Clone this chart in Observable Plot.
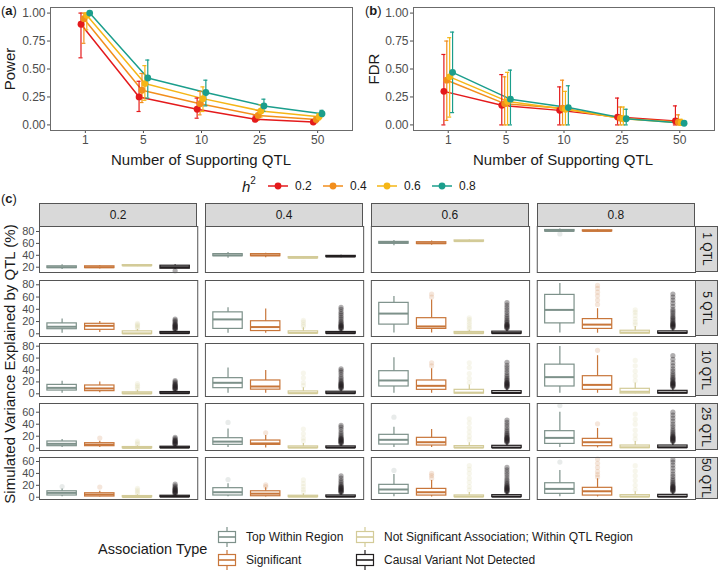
<!DOCTYPE html>
<html><head><meta charset="utf-8">
<script src="https://cdn.jsdelivr.net/npm/d3@7"></script>
<script src="https://cdn.jsdelivr.net/npm/@observablehq/plot@0.6"></script>
<style>
body{margin:0;background:#fff;}
#fig{position:relative;width:718px;height:570px;overflow:hidden;font-family:"Liberation Sans",Arial,Helvetica,sans-serif;color:#1a1a1a;}
.t{position:absolute;white-space:nowrap;line-height:1;}
.strip{position:absolute;background:#d9d9d9;border:1px solid #555;box-sizing:border-box;display:flex;align-items:center;justify-content:center;font-size:12px;color:#1a1a1a;}
</style></head><body><div id="fig"></div>
<script>
// ---------------- data ----------------
const qtlLabels = ["1", "5", "10", "25", "50"];
const h2Levels = [0.2, 0.4, 0.6, 0.8];
const h2Colors = ["#E41A1C", "#F28E1C", "#F5B616", "#1B9E8C"];

// Panel (a): power, one row per h2 level, one value per QTL count
const powerVal = [[0.90, 0.25, 0.14, 0.05, 0.025], [0.95, 0.31, 0.19, 0.085, 0.048], [0.98, 0.37, 0.235, 0.125, 0.073], [1.00, 0.42, 0.29, 0.17, 0.10]];
const powerLo  = [[0.60, 0.12, 0.06, 0.03, 0.01], [0.73, 0.20, 0.09, 0.04, 0.02], [0.85, 0.22, 0.12, 0.07, 0.045], [0.99, 0.24, 0.17, 0.12, 0.075]];
const powerHi  = [[1.00, 0.39, 0.24, 0.08, 0.04], [1.00, 0.46, 0.30, 0.13, 0.07], [1.00, 0.53, 0.34, 0.18, 0.10], [1.00, 0.58, 0.40, 0.23, 0.13]];

// Panel (b): FDR
const fdrVal = [[0.30, 0.175, 0.13, 0.07, 0.035], [0.40, 0.19, 0.15, 0.06, 0.025], [0.43, 0.21, 0.14, 0.055, 0.02], [0.47, 0.23, 0.155, 0.055, 0.015]];
const fdrLo  = [[0.00, 0.00, 0.00, 0.00, 0.00], [0.04, 0.00, 0.00, 0.00, 0.00], [0.07, 0.00, 0.00, 0.00, 0.00], [0.11, 0.00, 0.00, 0.00, 0.00]];
const fdrHi  = [[0.63, 0.45, 0.34, 0.24, 0.17], [0.75, 0.43, 0.40, 0.16, 0.09], [0.78, 0.47, 0.30, 0.16, 0.05], [0.83, 0.49, 0.35, 0.14, 0.03]];

// Panel (c)
const assocTypes = ["Top Within Region", "Significant", "Not Significant Association; Within QTL Region", "Causal Variant Not Detected"];
const assocColors = ["#7D918A", "#C8763A", "#D3CB98", "#231F20"];
const qtlStripLabels = ["1 QTL", "5 QTL", "10 QTL", "25 QTL", "50 QTL"];

// box stats: [h2, typeIndex, lowerWhisker, q1, median, q3, upperWhisker]
const box1QTL = [
  [0.2,0,16,18.5,20,21.5,24],[0.2,1,17,18.5,20,21.5,23],[0.2,2,21,22,22.8,23.5,24.5],[0.2,3,16,17.5,20,22.5,24],
  [0.4,0,35,38.5,40,42,44.5],[0.4,1,36,38.5,40,42,43.5],[0.4,2,34,35,35.8,37,38],[0.4,3,36,37,38,39,40],
  [0.6,0,56,59.5,61,62.5,65],[0.6,1,57,59,60.3,62,64],[0.6,2,62,63,63.8,65,66],
  [0.8,0,79,80,81,82.5,84],[0.8,1,79.5,80.2,81,82,83.5]
];
const box5QTL = [
  [0.2,0,1,7.5,11.5,17,24],[0.2,1,2,6.5,13,16.3,20],[0.2,2,0,0,0.5,4,7],[0.2,3,0,0.3,1,3,6],
  [0.4,0,1,8,23.5,35,42.5],[0.4,1,1,4.5,11,20.5,40.5],[0.4,2,0,0.5,1.5,4,10],[0.4,3,0,0.3,1,3,7],
  [0.6,0,1.5,15,33,50.5,61],[0.6,1,1.5,8,12,25.5,55],[0.6,2,0,0.3,1,3,6],[0.6,3,0,0.3,1,3.5,8],
  [0.8,0,1.5,17,39,63.5,82],[0.8,1,1,8,15,24,41],[0.8,2,0,0.5,2,5,12],[0.8,3,0,0.5,1.5,4,9]
];
const box10QTL = [
  [0.2,0,1,5.5,10,15,21],[0.2,1,2,4.5,9,14,20],[0.2,2,0,0,0.5,2.5,6],[0.2,3,0,0.3,1,3,6],
  [0.4,0,1,9.5,18.5,26.3,43.5],[0.4,1,1,7,12.3,22.4,39],[0.4,2,0,0.3,1,4,10],[0.4,3,0,0.3,1,3.5,8],
  [0.6,0,1,12.3,22.4,38,60.5],[0.6,1,1,6.7,13.4,22.4,42],[0.6,2,0,0.5,2,6.7,15],[0.6,3,0,0.5,1.5,4.5,10],
  [0.8,0,1,12.3,28,49,79.5],[0.8,1,1,6.7,15,29.6,64],[0.8,2,0,0.5,3.5,8.4,18],[0.8,3,0,0.5,2,5,11]
];
const box25QTL = [
  [0.2,0,1,3.4,7.3,11.2,14.5],[0.2,1,1,3.4,6,8.4,11.7],[0.2,2,0,0,0.5,2,4],[0.2,3,0,0.3,1,2.5,5],
  [0.4,0,1,5.6,11,16.7,32],[0.4,1,0.5,5.6,8,12.8,21],[0.4,2,0,0.3,1,3,8],[0.4,3,0,0.3,1,3,7],
  [0.6,0,1,6.1,14,22.3,35],[0.6,1,1,4.5,10,17.3,31],[0.6,2,0,0.3,1,3.5,9],[0.6,3,0,0.3,1,4,9],
  [0.8,0,1,7.2,17.2,28.4,60],[0.8,1,0.5,3.4,10,15.6,33],[0.8,2,0,0.3,1.5,4.5,11],[0.8,3,0,0.3,1.5,4.5,10]
];
const box50QTL = [
  [0.2,0,1,2.9,7.3,10,14],[0.2,1,0.5,1.2,4.5,6.7,10],[0.2,2,0,0,0.3,2,4],[0.2,3,0,0.3,1,2.5,5],
  [0.4,0,1,2.9,8.4,15.2,22.5],[0.4,1,0.5,1.7,6,10,15.8],[0.4,2,0,0.3,1,2.5,6],[0.4,3,0,0.3,1,3,7],
  [0.6,0,1,5.7,13,20.8,38],[0.6,1,0.5,2.8,8.4,14,28],[0.6,2,0,0.3,1,3,8],[0.6,3,0,0.3,1,3.5,8],
  [0.8,0,1,5.7,14,23.5,45],[0.8,1,0.5,2.8,10,15.8,31],[0.8,2,0,0.3,1,3.5,9],[0.8,3,0,0.3,1,4,9]
];

// outliers: [h2, typeIndex, [values]]
const out1QTL = [[0.2,3,[14]],[0.8,0,[76]]];
const out5QTL = [
  [0.2,2,[9,11,13,15,17]],
  [0.2,3,[7,8,9,10,11,12,13,14,15,16,18,20,22,24]],
  [0.4,2,[12,15,19,22]],
  [0.4,3,[8,9,10,11,12,13,14,15,17,19,21,24,27,30,33,36,40,43]],
  [0.6,1,[60,65]],
  [0.6,2,[8,11,15,19,23,26]],
  [0.6,3,[9,10,11,12,13,14,15,16,18,20,22,25,28,31,35,39,43,47,51]],
  [0.8,1,[48,55,62,68,74,79]],
  [0.8,2,[15,19,24,30,35,39]],
  [0.8,3,[10,11,12,13,14,15,16,17,18,20,22,24,26,28,31,34,37,40,45,50,55,60,65]]
];
const out10QTL = [
  [0.2,2,[8,11,14,17]],
  [0.2,3,[7,8,9,10,11,12,13,14,15,16,18,20,22]],
  [0.4,2,[14,19,27,35]],
  [0.4,3,[9,10,11,12,13,14,15,16,17,18,20,22,25,28,32,36,39,42]],
  [0.6,1,[47,52]],
  [0.6,2,[19,26,34,44,52]],
  [0.6,3,[11,12,13,14,15,16,17,18,19,20,22,24,26,29,32,36,40,44,48,53]],
  [0.8,1,[73]],
  [0.8,2,[22,30,38,47,56]],
  [0.8,3,[12,13,14,15,16,17,18,19,20,22,24,26,28,31,34,38,42,47,52,58,64]]
];
const out25QTL = [
  [0.2,1,[17]],
  [0.2,2,[6,9,12]],
  [0.2,3,[6,7,8,9,10,11,12,13,14,16,18]],
  [0.4,0,[43]],
  [0.4,1,[25.6]],
  [0.4,2,[12,17,24,32]],
  [0.4,3,[8,9,10,11,12,13,14,15,16,17,19,21,24,27,31,35,38]],
  [0.6,0,[51.7]],
  [0.6,2,[14,20,27,34,42,49]],
  [0.6,3,[10,11,12,13,14,15,16,17,18,19,21,23,25,28,31,35,39,43,47]],
  [0.8,0,[71]],
  [0.8,1,[40.6]],
  [0.8,2,[15,22,30,40,48,57]],
  [0.8,3,[11,12,13,14,15,16,17,18,19,20,22,24,26,29,32,36,40,45,50,55,60]]
];
const out50QTL = [
  [0.2,0,[18]],
  [0.2,1,[17]],
  [0.2,2,[6,9,12,15]],
  [0.2,3,[6,7,8,9,10,11,12,13,14,15,17,19,22]],
  [0.4,0,[29.7]],
  [0.4,1,[18,21]],
  [0.4,2,[9,13,18,23,29]],
  [0.4,3,[8,9,10,11,12,13,14,15,16,17,18,20,22,25,28,32,36]],
  [0.6,0,[45]],
  [0.6,1,[32,36.5,40]],
  [0.6,2,[12,18,25,32,40,47,53]],
  [0.6,3,[9,10,11,12,13,14,15,16,17,18,20,22,24,27,30,34,38,42,46,50]],
  [0.8,0,[59]],
  [0.8,1,[34,38,43,50,57,64]],
  [0.8,2,[13,20,28,36,44,53]],
  [0.8,3,[10,11,12,13,14,15,16,17,18,19,21,23,25,28,31,35,39,44,49,54,59,63]]
];

// ---------------- layout helpers ----------------
const FONT = '"Liberation Sans", Arial, Helvetica, sans-serif';
const fig = document.getElementById("fig");
function addNode(node, left, top) {
  const d = document.createElement("div");
  d.style.cssText = `position:absolute;left:${left}px;top:${top}px;line-height:0;`;
  d.appendChild(node);
  fig.appendChild(d);
  return d;
}
function addText(html, x, y, o = {}) {
  const size = o.size || 12, anchor = o.anchor || "middle", rot = o.rotate || 0;
  const tx = anchor === "start" ? "0" : anchor === "end" ? "-100%" : "-50%";
  const d = document.createElement("div");
  d.className = "t";
  d.innerHTML = html;
  d.style.cssText += `left:${x}px;top:${y}px;font-size:${size}px;font-weight:${o.weight || "normal"};color:${o.color || "#1a1a1a"};transform:translate(${tx},-50%);`;
  if (rot) d.style.transform = `translate(-50%,-50%) rotate(${rot}deg)`;
  fig.appendChild(d);
  return d;
}

// ---------------- panels (a) and (b) ----------------
function linePanel(vals, lo, hi, width, marginLeft, marginRight) {
  const rows = [];
  h2Levels.forEach((h, g) => qtlLabels.forEach((q, i) => rows.push({
    h2: h, xd: i + (g - 1.5) * 0.05, v: vals[g][i], lo: lo[g][i], hi: hi[g][i]
  })));
  return Plot.plot({
    width, height: 172, marginLeft, marginRight, marginTop: 7, marginBottom: 42,
    style: {fontFamily: FONT, fontSize: "12px", color: "#4d4d4d", background: "none", overflow: "visible"},
    x: {type: "linear", domain: [-0.6, 4.6], ticks: [0, 1, 2, 3, 4], tickFormat: i => qtlLabels[i], tickSize: 3, tickPadding: 2, label: null},
    y: {domain: [-0.05, 1.05], ticks: [0, 0.25, 0.5, 0.75, 1], tickFormat: d3.format(".2f"), tickSize: 3, tickPadding: 2, label: null},
    color: {type: "ordinal", domain: h2Levels, range: h2Colors},
    marks: [
      Plot.line(rows, {x: "xd", y: "v", z: "h2", stroke: "h2", strokeWidth: 1.5}),
      Plot.ruleX(rows, {x: "xd", y1: "lo", y2: "hi", stroke: "h2", strokeWidth: 1.2}),
      Plot.ruleY(rows, {y: "hi", x1: d => d.xd - 0.035, x2: d => d.xd + 0.035, stroke: "h2", strokeWidth: 1.2}),
      Plot.ruleY(rows, {y: "lo", x1: d => d.xd - 0.035, x2: d => d.xd + 0.035, stroke: "h2", strokeWidth: 1.2}),
      Plot.dot(rows, {x: "xd", y: "v", fill: "h2", r: 3.4}),
      Plot.frame({stroke: "#6b6b6b"})
    ]
  });
}
addNode(linePanel(powerVal, powerLo, powerHi, 358, 50, 6), 0, 0);
addNode(linePanel(fdrVal, fdrLo, fdrHi, 360, 55, 4), 358, 0);

addText("(<b>a</b>)", 1, 10, {size: 13, anchor: "start"});
addText("(<b>b</b>)", 365, 10, {size: 13, anchor: "start"});
addText("Power", 9, 69, {size: 15, rotate: -90});
addText("FDR", 373, 69, {size: 15, rotate: -90});
addText("Number of Supporting QTL", 201, 159, {size: 15});
addText("Number of Supporting QTL", 563, 159, {size: 15});

// h2 legend
addText('<i>h</i><sup style="font-size:10px;vertical-align:8px;line-height:0">2</sup>', 242, 186, {size: 15, anchor: "start"});
const legX = [267, 322, 376, 431];
h2Levels.forEach((h, i) => {
  const s = document.createElementNS("http://www.w3.org/2000/svg", "svg");
  s.setAttribute("width", 22); s.setAttribute("height", 10);
  s.innerHTML = `<line x1="1" y1="5" x2="21" y2="5" stroke="${h2Colors[i]}" stroke-width="1.5"/><circle cx="11" cy="5" r="3.4" fill="${h2Colors[i]}"/>`;
  addNode(s, legX[i], 181);
  addText(String(h), legX[i] + 28, 186, {size: 12, anchor: "start", color: "#1a1a1a"});
});

// ---------------- panel (c) ----------------
addText("(<b>c</b>)", 1, 198, {size: 13, anchor: "start"});
const facetLeft = 39, facetRight = 23, figW = 718;
const fxPad = 0.0463;
const fxStep = (figW - facetLeft - facetRight) / (4 - fxPad);
const fxBand = fxStep * (1 - fxPad);
h2Levels.forEach((h, i) => {
  const s = document.createElement("div");
  s.className = "strip";
  s.style.cssText += `left:${facetLeft + i * fxStep}px;top:203px;width:${fxBand}px;height:24px;`;
  s.textContent = String(h);
  fig.appendChild(s);
});

const rowSpecs = [
  {box: box1QTL, out: out1QTL, domain: [11.1, 88.4], ticks: [20, 40, 60, 80], top: 226, h: 46},
  {box: box5QTL, out: out5QTL, domain: [-4.4, 87], ticks: [0, 20, 40, 60, 80], top: 280, h: 56},
  {box: box10QTL, out: out10QTL, domain: [-4.5, 84.5], ticks: [0, 20, 40, 60, 80], top: 343, h: 53},
  {box: box25QTL, out: out25QTL, domain: [-3.8, 74.5], ticks: [0, 20, 40, 60], top: 403, h: 47},
  {box: box50QTL, out: out50QTL, domain: [-3.8, 66.7], ticks: [0, 20, 40, 60], top: 457, h: 42}
];

function rowPlot(spec) {
  const boxes = spec.box.map(([h2, t, lo, q1, med, q3, hi]) => ({h2, type: assocTypes[t], lo, q1, med, q3, hi}));
  const outs = spec.out.flatMap(([h2, t, vals]) => vals.map(v => ({h2, type: assocTypes[t], v})));
  const causal = assocTypes[3];
  return Plot.plot({
    width: figW, height: spec.h + 4, marginLeft: facetLeft, marginRight: facetRight, marginTop: 2, marginBottom: 2,
    style: {fontFamily: FONT, fontSize: "11px", color: "#4d4d4d", background: "none", overflow: "visible"},
    fx: {domain: h2Levels, paddingInner: fxPad, paddingOuter: 0, round: false, axis: null, label: null},
    x: {domain: assocTypes, paddingInner: 0.22, paddingOuter: 0.21, round: false, axis: null, label: null},
    y: {domain: spec.domain, ticks: spec.ticks, tickSize: 3, tickPadding: 2, label: null},
    color: {type: "ordinal", domain: assocTypes, range: assocColors},
    marks: [
      Plot.ruleX(boxes, {fx: "h2", x: "type", y1: "lo", y2: "hi", stroke: "type", strokeWidth: 1.2}),
      Plot.barY(boxes, {fx: "h2", x: "type", y1: "q1", y2: "q3", fill: "white", stroke: "type", strokeWidth: 1.2}),
      Plot.tickY(boxes, {fx: "h2", x: "type", y: "med", stroke: "type", strokeWidth: 2}),
      Plot.dot(outs.filter(d => d.type !== causal), {fx: "h2", x: "type", y: "v", fill: "type", r: 2.6, fillOpacity: 0.18}),
      Plot.dot(outs.filter(d => d.type === causal), {fx: "h2", x: "type", y: "v", fill: "type", r: 2.6, fillOpacity: 0.36}),
      Plot.frame({stroke: "#555"})
    ]
  });
}
rowSpecs.forEach((spec, r) => {
  addNode(rowPlot(spec), 0, spec.top - 2);
  const s = document.createElement("div");
  s.className = "strip";
  s.style.cssText += `left:${figW - facetRight}px;top:${spec.top}px;width:${facetRight}px;height:${spec.h}px;`;
  s.innerHTML = `<span style="display:inline-block;transform:rotate(90deg);white-space:nowrap">${qtlStripLabels[r]}</span>`;
  fig.appendChild(s);
});

addText("Simulated Variance Explained by QTL (%)", 9, 364, {size: 15, rotate: -90});

// bottom legend
addText("Association Type", 98, 549, {size: 14.5, anchor: "start"});
const keyPos = [[217, 537], [217, 560], [355, 537], [355, 560]];
assocTypes.forEach((t, i) => {
  const [kx, ky] = keyPos[i];
  const s = document.createElementNS("http://www.w3.org/2000/svg", "svg");
  s.setAttribute("width", 20); s.setAttribute("height", 20);
  s.innerHTML = `<line x1="10" y1="0" x2="10" y2="20" stroke="${assocColors[i]}" stroke-width="1.2"/>` +
    `<rect x="1.5" y="4.5" width="17" height="11" fill="white" stroke="${assocColors[i]}" stroke-width="1.2"/>` +
    `<line x1="1.5" y1="10" x2="18.5" y2="10" stroke="${assocColors[i]}" stroke-width="1.6"/>`;
  addNode(s, kx, ky - 10);
  addText(t, kx + 29, ky, {size: 12, anchor: "start"});
});
</script></body></html>
